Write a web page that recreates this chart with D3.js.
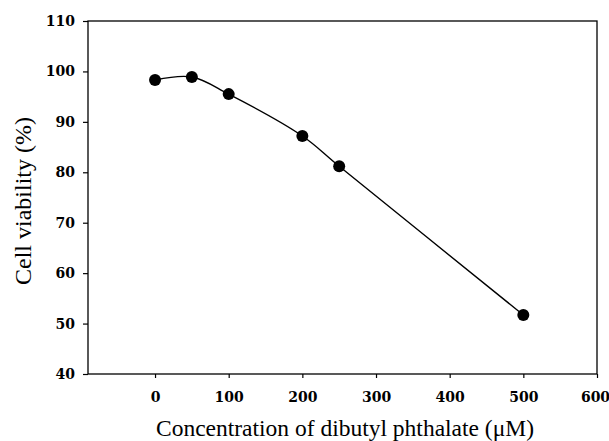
<!DOCTYPE html>
<html>
<head>
<meta charset="utf-8">
<script src="https://cdn.jsdelivr.net/npm/d3@7"></script>
<style>
  body { margin: 0; background: #fff; }
  .tick text { font-family: "DejaVu Serif", serif; font-weight: bold; font-size: 14px; fill: #000; }
</style>
</head>
<body>
<div id="chart"></div>
<script>
// data
var concentration = [0, 50, 100, 200, 250, 500];
var viability = [98.3, 98.9, 95.5, 87.2, 81.2, 51.7];
var xTicks = [0, 100, 200, 300, 400, 500, 600];
var yTicks = [40, 50, 60, 70, 80, 90, 100, 110];

var margin = { top: 21, right: 12, bottom: 67, left: 88 },
  width = 609 - margin.left - margin.right,
  height = 441 - margin.top - margin.bottom;

var svg = d3.select("#chart")
  .append("svg")
  .attr("width", 609)
  .attr("height", 441)
  .append("g")
  .attr("transform", "translate(" + margin.left + "," + margin.top + ")");

var x = d3.scaleLinear().domain([-91, 600]).range([0, width]);
var y = d3.scaleLinear().domain([40, 110]).range([height, 0]);

// frame
svg.append("rect")
  .attr("width", width)
  .attr("height", height)
  .attr("fill", "none")
  .attr("stroke", "#000")
  .attr("stroke-width", 1.3);

var xAxis = svg.append("g")
  .attr("transform", "translate(0," + height + ")")
  .call(d3.axisBottom(x).tickValues(xTicks).tickSize(4).tickPadding(14));
xAxis.select(".domain").remove();
// last label sits right at the page edge
xAxis.selectAll(".tick text").filter(function (d) { return d === 600; }).attr("dx", -2);

var yAxis = svg.append("g")
  .call(d3.axisLeft(y).tickValues(yTicks).tickSize(5).tickPadding(8));
yAxis.select(".domain").remove();

svg.selectAll(".tick line").attr("stroke", "#000").attr("stroke-width", 1.2);

var points = concentration.map(function (c, i) { return { c: c, v: viability[i] }; });

var line = d3.line()
  .x(function (d) { return x(d.c); })
  .y(function (d) { return y(d.v); })
  .curve(d3.curveCatmullRom);

svg.append("path")
  .datum(points)
  .attr("d", line)
  .attr("fill", "none")
  .attr("stroke", "#000")
  .attr("stroke-width", 1.4);

svg.selectAll("circle.pt")
  .data(points)
  .enter()
  .append("circle")
  .attr("class", "pt")
  .attr("cx", function (d) { return x(d.c); })
  .attr("cy", function (d) { return y(d.v); })
  .attr("r", 6)
  .attr("fill", "#000");

// axis titles
svg.append("text")
  .attr("x", 257)
  .attr("y", height + 62)
  .attr("text-anchor", "middle")
  .style("font-family", "'Liberation Serif', 'DejaVu Serif', serif")
  .style("font-size", "23.5px")
  .text("Concentration of dibutyl phthalate (\u03bcM)");

svg.append("text")
  .attr("transform", "rotate(-90)")
  .attr("x", -180)
  .attr("y", -57)
  .attr("text-anchor", "middle")
  .style("font-family", "'Liberation Serif', 'DejaVu Serif', serif")
  .style("font-size", "24px")
  .text("Cell viability (%)");
</script>
</body>
</html>
